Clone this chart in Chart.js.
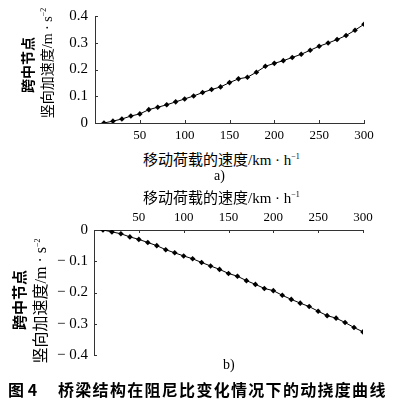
<!DOCTYPE html>
<html>
<head>
<meta charset="utf-8">
<script src="https://cdn.jsdelivr.net/npm/chart.js@4"></script>
<style>
  body { margin: 0; background: #fff; }
  #wrap { position: relative; width: 397px; height: 403px; overflow: hidden; background: #fff; }
  canvas { position: absolute; left: 0; }
  .t { position: absolute; white-space: nowrap; color: #000; font-family: "Noto Sans CJK SC", sans-serif; }
  .rot { transform: rotate(-90deg); text-align: center; }
  sup { font-size: 8px; font-family: "Liberation Serif", serif; }
  .ser { font-family: "Liberation Serif", serif; }
</style>
</head>
<body>
<div id="wrap">
  <canvas id="topChart" style="top:0" width="397" height="145"></canvas>
  <canvas id="bottomChart" style="top:200px" width="397" height="170"></canvas>

  <!-- y titles, chart a -->
  <div class="t rot" style="left:-33px;top:56px;width:120px;height:18px;line-height:18px;font-size:14px;font-weight:bold">跨中节点</div>
  <div class="t rot" style="left:-16px;top:54px;width:120px;height:18px;line-height:18px;font-size:14px">竖向加速度<span class="ser">/m · s</span><sup>−2</sup></div>

  <!-- y titles, chart b -->
  <div class="t rot" style="left:-51px;top:291px;width:140px;height:18px;line-height:18px;font-size:15px;font-weight:bold">跨中节点</div>
  <div class="t rot" style="left:-32px;top:292px;width:140px;height:18px;line-height:18px;font-size:16px">竖向加速度<span class="ser">/m · s</span><sup>−2</sup></div>

  <!-- x titles -->
  <div class="t" style="left:143px;top:148px;font-size:15px;line-height:18px">移动荷载的速度<span class="ser">/km · h</span><sup>−1</sup></div>
  <div class="t ser" style="left:214px;top:167px;font-size:14px;line-height:18px">a)</div>
  <div class="t" style="left:143px;top:186px;font-size:15px;line-height:18px">移动荷载的速度<span class="ser">/km · h</span><sup>−1</sup></div>
  <div class="t ser" style="left:223px;top:356px;font-size:14px;line-height:18px">b)</div>

  <!-- caption -->
  <div class="t" style="left:8px;top:379px;font-size:16px;line-height:20px;font-weight:bold">图 4</div>
  <div class="t" style="left:58px;top:379px;font-size:16px;line-height:20px;font-weight:bold;letter-spacing:1.3px">桥梁结构在阻尼比变化情况下的动挠度曲线</div>
</div>
<script>
// moving load speed, km/h
const speeds = [10, 20, 30, 40, 50, 60, 70, 80, 90, 100, 110, 120, 130, 140, 150,
  160, 170, 180, 190, 200, 210, 220, 230, 240, 250, 260, 270, 280, 290, 300];

// a) midspan vertical acceleration, m/s^2
const accelA = [0, 0.007, 0.015, 0.026, 0.034, 0.050, 0.059, 0.068, 0.079, 0.090,
  0.101, 0.114, 0.125, 0.135, 0.151, 0.165, 0.171, 0.190, 0.212, 0.223,
  0.233, 0.245, 0.257, 0.272, 0.287, 0.299, 0.312, 0.327, 0.347, 0.369];

// b) midspan vertical acceleration, m/s^2
const accelB = [0, -0.006, -0.012, -0.022, -0.030, -0.040, -0.050, -0.063, -0.073, -0.083,
  -0.092, -0.104, -0.115, -0.126, -0.139, -0.148, -0.162, -0.174, -0.187, -0.194,
  -0.209, -0.222, -0.234, -0.245, -0.260, -0.274, -0.282, -0.296, -0.312, -0.326];

const xTicks = [50, 100, 150, 200, 250, 300];

const axisColor = '#333';
const tickFont = { family: 'Liberation Serif', size: 15 };

// small tick marks drawn on the inside of the axes
const innerTicks = {
  id: 'innerTicks',
  afterDraw(chart) {
    const { ctx, chartArea } = chart;
    const xs = chart.scales.x, ys = chart.scales.y;
    const xTop = xs.position === 'top';
    ctx.save();
    ctx.strokeStyle = axisColor;
    ctx.lineWidth = 1;
    ctx.beginPath();
    xs.ticks.forEach(t => {
      const px = Math.round(xs.getPixelForValue(t.value)) + 0.5;
      const y0 = xTop ? chartArea.top : chartArea.bottom;
      ctx.moveTo(px, y0);
      ctx.lineTo(px, xTop ? y0 + 3 : y0 - 3);
    });
    ys.ticks.forEach(t => {
      const py = Math.round(ys.getPixelForValue(t.value)) + 0.5;
      ctx.moveTo(chartArea.left, py);
      ctx.lineTo(chartArea.left + 3, py);
    });
    ctx.stroke();
    ctx.restore();
  }
};

function drawChart(canvas, values, opts) {
  return new Chart(canvas.getContext('2d'), {
    type: 'line',
    data: {
      datasets: [{
        data: speeds.map((s, i) => ({ x: s, y: values[i] })),
        borderColor: '#000',
        borderWidth: 1,
        backgroundColor: '#000',
        pointStyle: 'rectRot',
        pointRadius: 2.8,
        pointBorderWidth: 0,
        tension: 0
      }]
    },
    options: {
      responsive: false,
      animation: false,
      layout: { padding: opts.padding },
      plugins: { legend: { display: false }, tooltip: { enabled: false } },
      scales: {
        x: {
          type: 'linear',
          position: opts.xPos,
          min: 0,
          max: 300,
          afterBuildTicks: s => { s.ticks = xTicks.map(v => ({ value: v })); },
          afterFit: s => { s.height = opts.xHeight; },
          grid: { drawOnChartArea: false, drawTicks: false },
          border: { display: true, color: axisColor, width: 1 },
          ticks: { color: '#000', font: { family: 'Liberation Serif', size: 13 }, padding: opts.xPad, maxRotation: 0 }
        },
        y: {
          min: opts.yMin,
          max: opts.yMax,
          ticks: {
            stepSize: 0.1,
            color: '#000',
            font: tickFont,
            padding: opts.yPad,
            callback: v => {
              if (Math.abs(v) < 1e-9) return '0';
              return v < 0 ? '− ' + Math.abs(v).toFixed(1) : v.toFixed(1);
            }
          },
          afterFit: s => { s.width = opts.yWidth; },
          grid: { drawOnChartArea: false, drawTicks: false },
          border: { display: true, color: axisColor, width: 1 }
        }
      }
    },
    plugins: [innerTicks]
  });
}

drawChart(document.getElementById('topChart'), accelA, {
  padding: { top: 10, right: 33, left: 0, bottom: 0 },
  xPos: 'bottom', xHeight: 22, xPad: 5,
  yMin: 0, yMax: 0.4, yWidth: 95, yPad: 7
});

drawChart(document.getElementById('bottomChart'), accelB, {
  padding: { top: 0, right: 34, left: 0, bottom: 8 },
  xPos: 'top', xHeight: 30, xPad: 5,
  yMin: -0.4, yMax: 0, yWidth: 94, yPad: 6
});
</script>
</body>
</html>
